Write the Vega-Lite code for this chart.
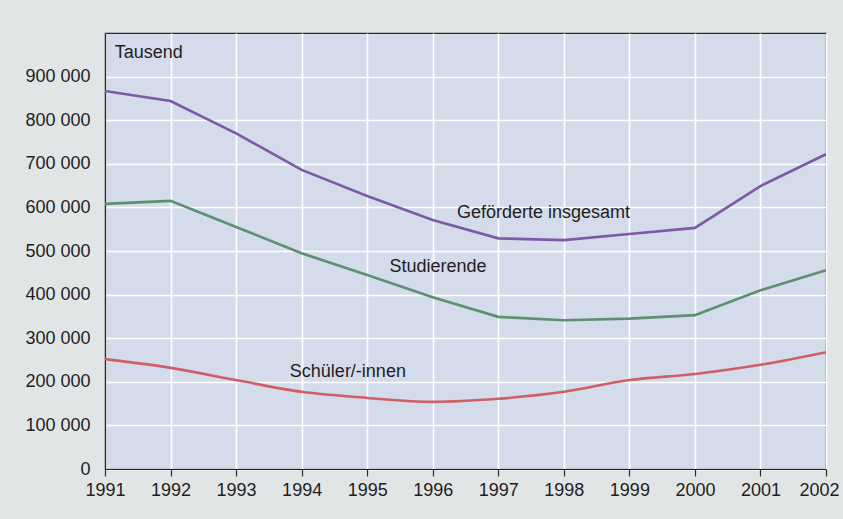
{
  "$schema": "https://vega.github.io/schema/vega-lite/v6.json",
  "width": 721,
  "height": 436,
  "autosize": {"type": "none"},
  "padding": {"left": 105, "top": 33, "right": 17, "bottom": 50},
  "background": "#e2e5e6",
  "config": {
    "font": "Liberation Sans",
    "view": {"fill": "#d4dbea", "stroke": "#2a2a2a", "strokeWidth": 1.2},
    "axis": {
      "labelFont": "Liberation Sans",
      "labelFontSize": 18,
      "labelColor": "#1e1e1e",
      "domainColor": "#2a2a2a",
      "domainWidth": 1.2,
      "gridColor": "#ffffff",
      "gridWidth": 1.6,
      "gridOpacity": 1,
      "title": null
    }
  },
  "datasets": {
    "series": [
      {"year": 1991, "value": 867000, "series": "Geförderte insgesamt"},
      {"year": 1992, "value": 844000, "series": "Geförderte insgesamt"},
      {"year": 1993, "value": 770000, "series": "Geförderte insgesamt"},
      {"year": 1994, "value": 686000, "series": "Geförderte insgesamt"},
      {"year": 1995, "value": 626000, "series": "Geförderte insgesamt"},
      {"year": 1996, "value": 571000, "series": "Geförderte insgesamt"},
      {"year": 1997, "value": 529000, "series": "Geförderte insgesamt"},
      {"year": 1998, "value": 525000, "series": "Geförderte insgesamt"},
      {"year": 1999, "value": 539000, "series": "Geförderte insgesamt"},
      {"year": 2000, "value": 553000, "series": "Geförderte insgesamt"},
      {"year": 2001, "value": 649000, "series": "Geförderte insgesamt"},
      {"year": 2002, "value": 722000, "series": "Geförderte insgesamt"},
      {"year": 1991, "value": 608000, "series": "Studierende"},
      {"year": 1992, "value": 615000, "series": "Studierende"},
      {"year": 1993, "value": 555000, "series": "Studierende"},
      {"year": 1994, "value": 495000, "series": "Studierende"},
      {"year": 1995, "value": 445000, "series": "Studierende"},
      {"year": 1996, "value": 394000, "series": "Studierende"},
      {"year": 1997, "value": 349000, "series": "Studierende"},
      {"year": 1998, "value": 341000, "series": "Studierende"},
      {"year": 1999, "value": 345000, "series": "Studierende"},
      {"year": 2000, "value": 353000, "series": "Studierende"},
      {"year": 2001, "value": 410000, "series": "Studierende"},
      {"year": 2002, "value": 456000, "series": "Studierende"},
      {"year": 1991, "value": 252000, "series": "Schüler/-innen"},
      {"year": 1992, "value": 232000, "series": "Schüler/-innen"},
      {"year": 1993, "value": 204000, "series": "Schüler/-innen"},
      {"year": 1994, "value": 177000, "series": "Schüler/-innen"},
      {"year": 1995, "value": 163000, "series": "Schüler/-innen"},
      {"year": 1996, "value": 154000, "series": "Schüler/-innen"},
      {"year": 1997, "value": 161000, "series": "Schüler/-innen"},
      {"year": 1998, "value": 177000, "series": "Schüler/-innen"},
      {"year": 1999, "value": 204000, "series": "Schüler/-innen"},
      {"year": 2000, "value": 218000, "series": "Schüler/-innen"},
      {"year": 2001, "value": 239000, "series": "Schüler/-innen"},
      {"year": 2002, "value": 268000, "series": "Schüler/-innen"}
    ],
    "labels": [
      {"year": 1991.15, "value": 954000, "text": "Tausend"},
      {"year": 1996.37, "value": 587000, "text": "Geförderte insgesamt"},
      {"year": 1995.34, "value": 463000, "text": "Studierende"},
      {"year": 1993.82, "value": 222000, "text": "Schüler/-innen"}
    ]
  },
  "layer": [
    {
      "data": {"name": "series"},
      "transform": [{"filter": "datum.series != 'Schüler/-innen'"}],
      "mark": {"type": "line", "strokeWidth": 2.6, "interpolate": "linear"},
      "encoding": {
        "x": {
          "field": "year", "type": "quantitative",
          "scale": {"domain": [1991, 2002], "nice": false, "zero": false},
          "axis": {
            "values": [1991, 1992, 1993, 1994, 1995, 1996, 1997, 1998, 1999, 2000, 2001, 2002],
            "format": "d",
            "ticks": true, "tickSize": 7, "tickColor": "#2a2a2a", "tickWidth": 1.2,
            "labelPadding": 5,
            "labelFlush": false,
            "labelOverlap": false,
            "labelBound": false,
            "labelOffset": {"condition": {"test": "datum.value == 2002", "value": -7}, "value": 0},
            "grid": true
          }
        },
        "y": {
          "field": "value", "type": "quantitative",
          "scale": {"domain": [0, 1000000], "nice": false},
          "axis": {
            "values": [0, 100000, 200000, 300000, 400000, 500000, 600000, 700000, 800000, 900000],
            "labelExpr": "datum.value == 0 ? '0' : format(datum.value / 1000, 'd') + ' 000'",
            "ticks": false,
            "labelPadding": 15,
            "labelFlush": false,
            "labelOverlap": false,
            "grid": true
          }
        },
        "color": {
          "field": "series", "type": "nominal",
          "scale": {
            "domain": ["Geförderte insgesamt", "Studierende", "Schüler/-innen"],
            "range": ["#7d5aa8", "#5e9070", "#cf5f67"]
          },
          "legend": null
        }
      }
    },
    {
      "data": {"name": "series"},
      "transform": [{"filter": "datum.series == 'Schüler/-innen'"}],
      "mark": {"type": "line", "strokeWidth": 2.6, "interpolate": "monotone"},
      "encoding": {
        "x": {"field": "year", "type": "quantitative"},
        "y": {"field": "value", "type": "quantitative"},
        "color": {"field": "series", "type": "nominal", "legend": null}
      }
    },
    {
      "data": {"name": "labels"},
      "mark": {"type": "text", "align": "left", "baseline": "middle", "fontSize": 18, "font": "Liberation Sans", "color": "#1e1e1e"},
      "encoding": {
        "x": {"field": "year", "type": "quantitative"},
        "y": {"field": "value", "type": "quantitative"},
        "text": {"field": "text"}
      }
    }
  ]
}
